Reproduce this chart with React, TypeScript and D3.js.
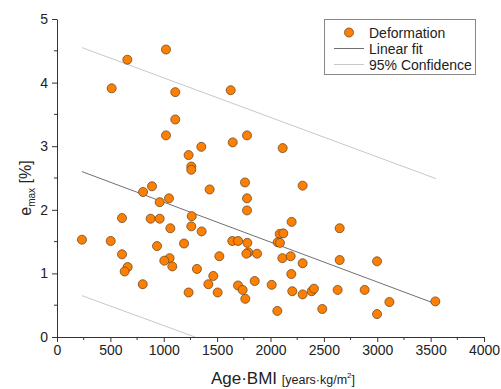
import React, { useEffect, useRef } from 'react';
import * as d3 from 'd3';

// Age·BMI vs e_max
const ageBmi = [
  512, 659, 1021, 1108, 1627, 1108, 1021, 1780, 1646, 1352, 2114, 1233, 1258, 1258, 1761, 2301,
  806, 890, 962, 1049, 609, 877, 962, 1062, 234, 503, 937, 1190, 609, 1055, 1005, 1080, 662, 634, 803,
  1430, 1780, 1780, 1262, 1258, 1355, 2198, 2086, 2120, 2067, 2089, 1642, 1696, 1783, 1792, 1774,
  1874, 1521, 2111, 2189, 2301, 1311, 1464, 1418, 1852, 1696, 1739, 1764, 2011, 2195, 2204, 2301,
  1233, 1505, 2064,
  2648, 2648, 2998, 2386, 2407, 2629, 2882, 3114, 3544, 2485, 2998,
];
const eMax = [
  3.91, 4.36, 4.52, 3.85, 3.88, 3.42, 3.17, 3.17, 3.06, 2.99, 2.97, 2.86, 2.68, 2.63, 2.43, 2.38,
  2.28, 2.37, 2.12, 2.18, 1.87, 1.86, 1.86, 1.71, 1.53, 1.51, 1.43, 1.47, 1.30, 1.24, 1.20, 1.11, 1.10, 1.03, 0.83,
  2.32, 2.18, 1.99, 1.90, 1.74, 1.66, 1.81, 1.62, 1.63, 1.49, 1.48, 1.51, 1.51, 1.48, 1.33, 1.31,
  1.31, 1.27, 1.24, 1.27, 1.16, 1.07, 0.96, 0.83, 0.88, 0.81, 0.74, 0.60, 0.82, 0.99, 0.72, 0.67,
  0.70, 0.70, 0.41,
  1.71, 1.21, 1.19, 0.72, 0.76, 0.74, 0.74, 0.55, 0.56, 0.44, 0.36,
];

// fit and confidence band end points
const fitX = [234, 3550];
const fitY = [2.60, 0.52];
const upperX = [234, 3550];
const upperY = [4.55, 2.49];
const lowerX = [234, 1293];
const lowerY = [0.65, 0];

const xTicks = [0, 500, 1000, 1500, 2000, 2500, 3000, 3500, 4000];
const yTicks = [0, 1, 2, 3, 4, 5];

const legendItems = ['Deformation', 'Linear fit', '95% Confidence'];

const W = 501;
const H = 389;
const FONT = 'Liberation Sans, Arial, sans-serif';

export default function App() {
  const svgRef = useRef<SVGSVGElement>(null);

  useEffect(() => {
    const svg = d3.select(svgRef.current);
    svg.selectAll('*').remove();

    const x = d3.scaleLinear().domain([0, 4000]).range([57, 484]);
    const y = d3.scaleLinear().domain([0, 5]).range([337, 19]);

    const line = d3.line<[number, number]>()
      .x(d => x(d[0]))
      .y(d => y(d[1]));

    // confidence lines
    svg.append('path')
      .attr('d', line(upperX.map((v, i) => [v, upperY[i]])))
      .attr('fill', 'none')
      .attr('stroke', '#c8c8c8')
      .attr('stroke-width', 1);
    svg.append('path')
      .attr('d', line(lowerX.map((v, i) => [v, lowerY[i]])))
      .attr('fill', 'none')
      .attr('stroke', '#c8c8c8')
      .attr('stroke-width', 1);

    // linear fit
    svg.append('path')
      .attr('d', line(fitX.map((v, i) => [v, fitY[i]])))
      .attr('fill', 'none')
      .attr('stroke', '#707070')
      .attr('stroke-width', 1);

    // x axis
    const xAxis = svg.append('g')
      .attr('transform', `translate(0,${y(0)})`)
      .call(d3.axisBottom(x).tickValues(xTicks).tickFormat(d => String(d))
        .tickSize(5).tickSizeOuter(0).tickPadding(3));
    xAxis.select('.domain').attr('stroke', '#333');
    xAxis.selectAll('.tick line').attr('stroke', '#333');
    xAxis.selectAll('text')
      .attr('fill', '#222')
      .style('font-family', FONT)
      .style('font-size', '14px');
    xAxis.selectAll('.minor')
      .data(d3.range(250, 4000, 500))
      .enter()
      .append('line')
      .attr('x1', d => x(d))
      .attr('x2', d => x(d))
      .attr('y1', 0)
      .attr('y2', 3)
      .attr('stroke', '#333');

    // y axis
    const yAxis = svg.append('g')
      .attr('transform', `translate(${x(0)},0)`)
      .call(d3.axisLeft(y).tickValues(yTicks).tickFormat(d => String(d))
        .tickSize(5).tickSizeOuter(0).tickPadding(4));
    yAxis.select('.domain').attr('stroke', '#333');
    yAxis.selectAll('.tick line').attr('stroke', '#333');
    yAxis.selectAll('text')
      .attr('fill', '#222')
      .style('font-family', FONT)
      .style('font-size', '14px');
    yAxis.selectAll('.minor')
      .data(d3.range(0.5, 5, 1))
      .enter()
      .append('line')
      .attr('x1', 0)
      .attr('x2', -3)
      .attr('y1', d => y(d))
      .attr('y2', d => y(d))
      .attr('stroke', '#333');

    // points
    svg.append('g')
      .selectAll('circle')
      .data(ageBmi.map((v, i) => [v, eMax[i]]))
      .enter()
      .append('circle')
      .attr('cx', d => x(d[0]))
      .attr('cy', d => y(d[1]))
      .attr('r', 4.5)
      .attr('fill', '#ff8000')
      .attr('stroke', '#6a4a2a')
      .attr('stroke-width', 0.8);

    // axis titles
    const xt = svg.append('text')
      .attr('x', 283)
      .attr('y', 384)
      .attr('text-anchor', 'middle')
      .style('font-family', FONT)
      .style('font-size', '17px')
      .attr('fill', '#222');
    xt.append('tspan').text('Age·BMI ');
    xt.append('tspan').style('font-size', '12.5px').text('[years·kg/m');
    xt.append('tspan').style('font-size', '8px').attr('dy', -6).text('2');
    xt.append('tspan').style('font-size', '12.5px').attr('dy', 6).text(']');

    const yt = svg.append('text')
      .attr('transform', 'translate(31,188) rotate(-90)')
      .attr('text-anchor', 'middle')
      .style('font-family', FONT)
      .style('font-size', '16px')
      .attr('fill', '#222');
    yt.append('tspan').text('e');
    yt.append('tspan').style('font-size', '10px').attr('dy', 4).text('max');
    yt.append('tspan').attr('dy', -4).text(' [%]');

    // legend
    const lg = svg.append('g');
    lg.append('rect')
      .attr('x', 324.5)
      .attr('y', 19.5)
      .attr('width', 151)
      .attr('height', 55)
      .attr('fill', '#fff')
      .attr('stroke', '#888');
    const rowY = [32.5, 48.5, 64.5];
    lg.append('circle')
      .attr('cx', 349)
      .attr('cy', rowY[0])
      .attr('r', 4.5)
      .attr('fill', '#ff8000')
      .attr('stroke', '#6a4a2a')
      .attr('stroke-width', 0.8);
    lg.append('line')
      .attr('x1', 334).attr('x2', 364)
      .attr('y1', rowY[1]).attr('y2', rowY[1])
      .attr('stroke', '#707070');
    lg.append('line')
      .attr('x1', 334).attr('x2', 364)
      .attr('y1', rowY[2]).attr('y2', rowY[2])
      .attr('stroke', '#c8c8c8');
    lg.selectAll('.lt')
      .data(legendItems)
      .enter()
      .append('text')
      .attr('x', 369)
      .attr('y', (d, i) => rowY[i] + 5)
      .style('font-family', FONT)
      .style('font-size', '14px')
      .attr('fill', '#222')
      .text(d => d);
  }, []);

  return (
    <div style={{ position: 'absolute', left: 0, top: 0, width: W, height: H, background: '#fff' }}>
      <svg ref={svgRef} width={W} height={H} style={{ display: 'block' }} />
    </div>
  );
}
